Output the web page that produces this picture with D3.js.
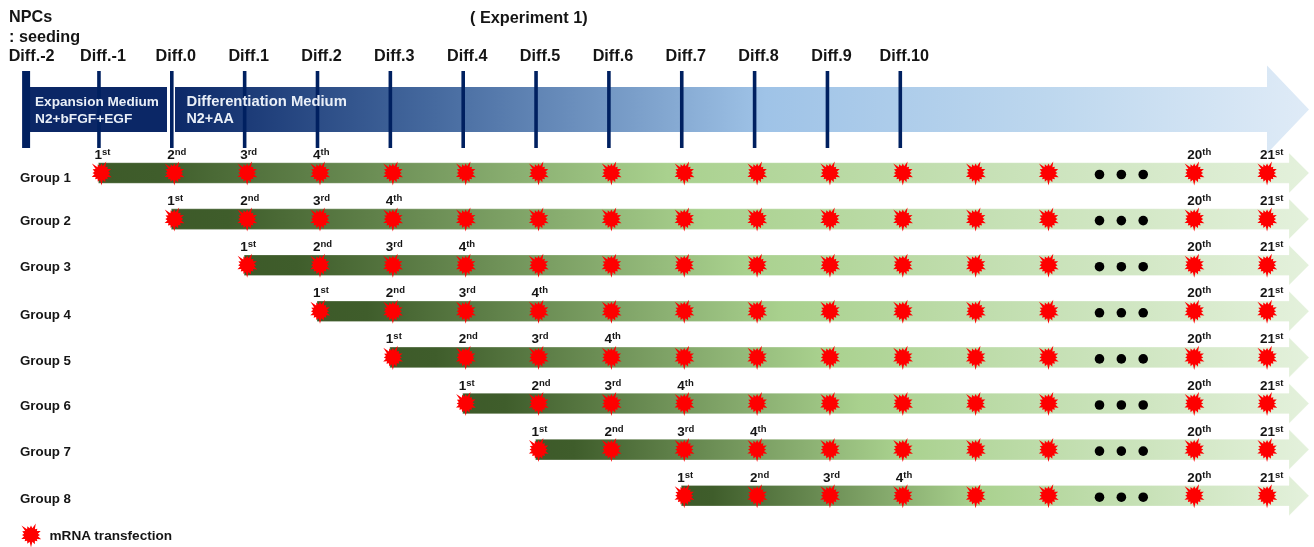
<!DOCTYPE html>
<html>
<head>
<meta charset="utf-8">
<title>Experiment 1</title>
<script src="https://cdn.jsdelivr.net/npm/d3@7"></script>
<style>
    html, body { margin: 0; padding: 0; background: #fff; }
    svg { display: block; filter: blur(0.35px); }
    text { font-family: "Liberation Sans", Arial, sans-serif; font-weight: bold; fill: #151515; }
</style>
</head>
<body>
<svg id="chart" width="1314" height="547"></svg>
<script>
const diffDays = [-2, -1, 0, 1, 2, 3, 4, 5, 6, 7, 8, 9, 10];
const groupNames = ['Group 1', 'Group 2', 'Group 3', 'Group 4', 'Group 5', 'Group 6', 'Group 7', 'Group 8'];
const groupStartDays = [-1, 0, 1, 2, 3, 4, 5, 7];
const lastDailyDay = 12;
const gapDay = 13;
const finalDays = [14, 15];
const firstLabels = [['1', 'st'], ['2', 'nd'], ['3', 'rd'], ['4', 'th']];
const finalLabels = [['20', 'th'], ['21', 'st']];

const width = 1314, height = 547;
const svg = d3.select('#chart');
const defs = svg.append('defs');

// x축: 하루 단위
const x = d3.scaleLinear().domain([0, 10]).range([171.3, 899.8]);
// y축: 그룹 줄
const rowY = d3.scaleLinear().domain([0, 7]).range([173, 495.7]);

const arrowTip = 1309;
const starShift = 3;
// 그룹 이름 기준선 보정
const groupLabelDy = [8.5, 6, 5.5, 7.5, 7.5, 6.5, 6.5, 6.8];

function addGradient(id, stops) {
    const g = defs.append('linearGradient').attr('id', id);
    g.selectAll('stop')
        .data(stops)
        .enter()
        .append('stop')
        .attr('offset', d => d[0])
        .attr('stop-color', d => d[1]);
}

addGradient('blueFade', [[0, '#0c2968'], [0.23, '#466a9f'], [0.42, '#7fa3cd'], [0.52, '#9fc3e7'], [0.77, '#bdd7ee'], [1, '#dfebf7']]);
addGradient('greenFade', [[0, '#3d5a29'], [0.05, '#3f5d2b'], [0.47, '#a9d18e'], [0.72, '#c5e0b4'], [1, '#e4f1dc']]);

function arrowPath(x0, y, bodyHalf, headStart, headHalf) {
    const p = d3.path();
    p.moveTo(x0, y - bodyHalf);
    p.lineTo(headStart, y - bodyHalf);
    p.lineTo(headStart, y - headHalf);
    p.lineTo(arrowTip, y);
    p.lineTo(headStart, y + headHalf);
    p.lineTo(headStart, y + bodyHalf);
    p.lineTo(x0, y + bodyHalf);
    p.closePath();
    return p.toString();
}

// 별 모양 (가시 길이)
const spikes = [9.5, 12.5, 9, 10.5, 9, 11, 9, 10, 12.5, 9.5, 9, 10.5, 9, 9.5, 13.5, 9.5];
const starPoints = [];
spikes.forEach((r, i) => {
    const step = 2 * Math.PI / spikes.length;
    starPoints.push([i * step, r]);
    starPoints.push([(i + 0.5) * step, 7]);
});
const starPath = d3.lineRadial().curve(d3.curveLinearClosed)(starPoints);

function drawStar(parent, cx, cy) {
    parent.append('path')
        .attr('d', starPath)
        .attr('transform', `translate(${cx},${cy})`)
        .attr('fill', '#fe0000');
}

function drawTimeline() {
    const g = svg.append('g');

    g.append('path')
        .attr('d', arrowPath(175, 109.5, 22.5, 1267, 44))
        .attr('fill', 'url(#blueFade)');

    g.append('rect')
        .attr('x', 29)
        .attr('y', 87)
        .attr('width', 138)
        .attr('height', 45)
        .attr('fill', '#0b2766');

    const axis = d3.axisTop(x)
        .tickValues(diffDays)
        .tickSize(77)
        .tickPadding(10)
        .tickFormat(d => 'Diff.' + d);

    const axisG = g.append('g')
        .attr('transform', 'translate(0,148)')
        .call(axis);

    axisG.select('.domain').remove();
    axisG.selectAll('.tick line')
        .attr('stroke', '#002060')
        .attr('stroke-width', d => d === -2 ? 8 : 3.6);
    axisG.selectAll('.tick text')
        .attr('dx', d => d === -2 ? 5.5 : 4)
        .attr('font-size', 16.2)
        .attr('font-family', null)
        .attr('fill', null);

    g.append('text').attr('x', 9).attr('y', 21.5).attr('font-size', 16.2).text('NPCs');
    g.append('text').attr('x', 9).attr('y', 42).attr('font-size', 16.2).text(': seeding');
    g.append('text').attr('x', 470).attr('y', 22.5).attr('font-size', 16.3).text('( Experiment 1)');

    const mediumText = [
        ['Expansion Medium', 35, 106, 13.6],
        ['N2+bFGF+EGF', 35, 122.5, 13.7],
        ['Differentiation Medium', 186.5, 106, 14.8],
        ['N2+AA', 186.5, 123, 14.3],
    ];
    g.selectAll('.medium')
        .data(mediumText)
        .enter()
        .append('text')
        .attr('class', 'medium')
        .attr('x', d => d[1])
        .attr('y', d => d[2])
        .attr('font-size', d => d[3])
        .style('fill', '#e9eff7')
        .text(d => d[0]);
}

function drawOrdinal(parent, label, cx, cy) {
    const t = parent.append('text')
        .attr('x', cx - 7)
        .attr('y', cy - 14)
        .attr('font-size', 13.5)
        .text(label[0]);
    t.append('tspan')
        .attr('dy', -4)
        .attr('font-size', 9.5)
        .text(label[1]);
}

function drawGroups() {
    groupNames.forEach((name, i) => {
        const g = svg.append('g');
        const y = rowY(i);
        const start = groupStartDays[i];

        g.append('text')
            .attr('x', 20)
            .attr('y', y + groupLabelDy[i])
            .attr('font-size', 13.3)
            .text(name);

        g.append('path')
            .attr('d', arrowPath(x(start), y, 10.3, 1289, 20))
            .attr('fill', 'url(#greenFade)')
            .attr('stroke', '#ffffff')
            .attr('stroke-opacity', 0.35)
            .attr('stroke-width', 0.8);

        const days = d3.range(start, lastDailyDay + 1).concat(finalDays);
        days.forEach(d => drawStar(g, x(d) + starShift, y));

        firstLabels.forEach((label, k) => drawOrdinal(g, label, x(start + k) + starShift, y));
        finalLabels.forEach((label, k) => drawOrdinal(g, label, x(finalDays[k]) + starShift, y));

        [-0.3, 0, 0.3].forEach(off => {
            g.append('circle')
                .attr('cx', x(gapDay + off) + starShift)
                .attr('cy', y + 1.5)
                .attr('r', 4.8)
                .attr('fill', '#000');
        });
    });
}

function drawLegend() {
    const g = svg.append('g');
    drawStar(g, 31, 535);
    g.append('text')
        .attr('x', 49.5)
        .attr('y', 540)
        .attr('font-size', 13.6)
        .text('mRNA transfection');
}

drawTimeline();
drawGroups();
drawLegend();
</script>
</body>
</html>
